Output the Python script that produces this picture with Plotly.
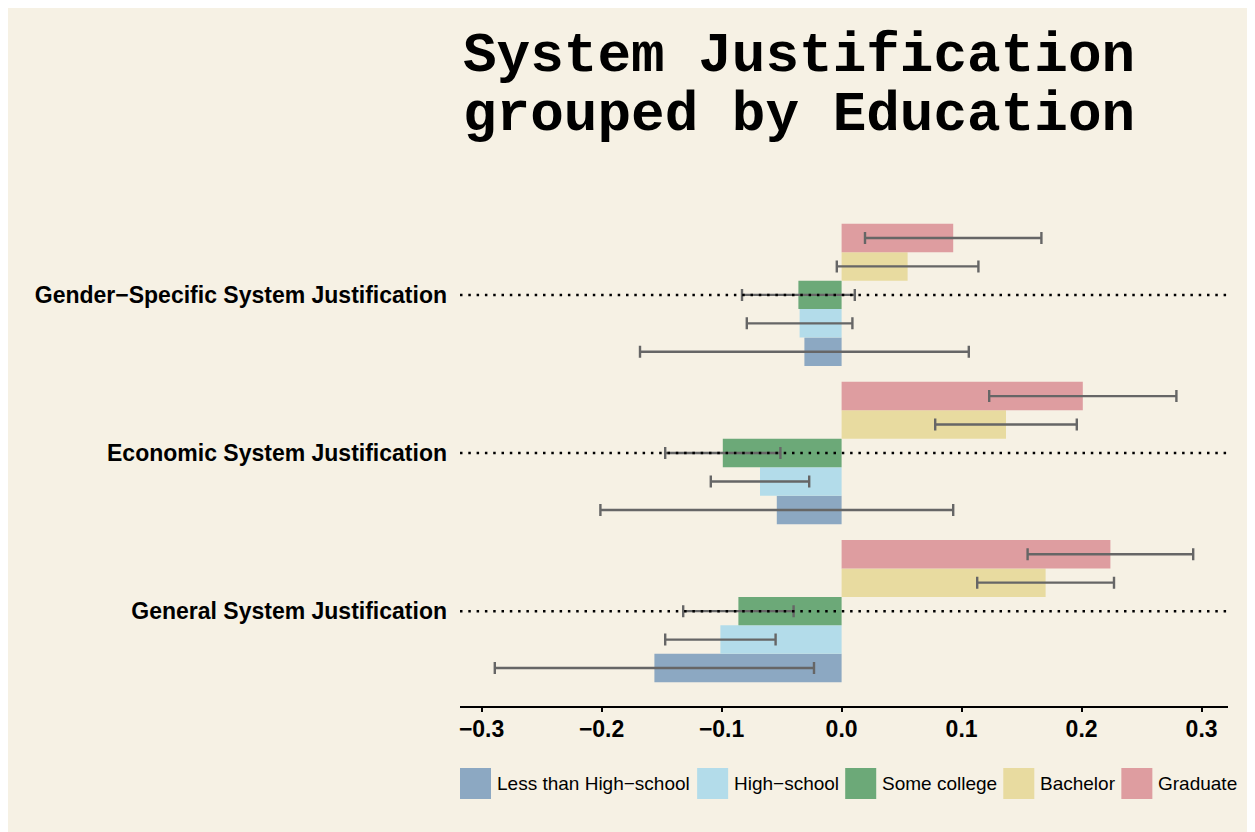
import plotly.graph_objects as go

# ---- data ----
categories = ["General System Justification",
              "Economic System Justification",
              "Gender\u2212Specific System Justification"]
series_names = ["Less than High\u2212school", "High\u2212school", "Some college", "Bachelor", "Graduate"]

less_hs = [-0.156, -0.054, -0.031]
high_school = [-0.101, -0.068, -0.035]
some_college = [-0.086, -0.099, -0.036]
bachelor = [0.170, 0.137, 0.055]
graduate = [0.224, 0.201, 0.093]

less_hs_err = [0.133, 0.147, 0.137]
high_school_err = [0.046, 0.041, 0.044]
some_college_err = [0.046, 0.048, 0.047]
bachelor_err = [0.057, 0.059, 0.059]
graduate_err = [0.069, 0.078, 0.0735]

x_ticks = [-0.3, -0.2, -0.1, 0.0, 0.1, 0.2, 0.3]
x_tick_labels = ["\u22120.3", "\u22120.2", "\u22120.1", "0.0", "0.1", "0.2", "0.3"]

colors = ["#8CA8C2", "#B3DCEA", "#6CA978", "#E8DBA0", "#DE9DA0"]
BG = "#F6F1E4"

values = [less_hs, high_school, some_college, bachelor, graduate]
errors = [less_hs_err, high_school_err, some_college_err, bachelor_err, graduate_err]

W, H = 1255, 832
OFF = 8  # page body margin
# plot area in screenshot pixels: x 460..1227.6, y 200..706
ML = 460 - OFF
MR = W - (1227.6 - OFF)
MT = 200 - OFF
MB = H - (706 - OFF)
PW, PH = W - ML - MR, H - MT - MB


def px_x(p):
    return (p - OFF - ML) / PW


def px_y(p):
    return (H - MB - (p - OFF)) / PH


fig = go.Figure()
for name, vals, errs, col in zip(series_names, values, errors, colors):
    fig.add_trace(go.Bar(
        y=categories, x=vals, name=name, orientation="h",
        marker=dict(color=col, line=dict(width=0)),
        error_x=dict(type="data", array=errs, color="#666666", thickness=2.4, width=6),
        showlegend=False,
    ))

shapes = []
# dotted reference lines at each category
for c in categories:
    shapes.append(dict(type="line", xref="paper", yref="y", x0=0, x1=1, y0=c, y1=c,
                       line=dict(color="black", width=2.5, dash="2.5px,5.8px"), layer="above"))

annotations = []
title_font = dict(family="Liberation Mono, Courier New, monospace", size=56, color="black")
annotations.append(dict(text="<b>System Justification</b>", xref="paper", yref="paper",
                        x=px_x(461), y=px_y(56), xanchor="left", yanchor="middle", showarrow=False,
                        font=title_font))
annotations.append(dict(text="<b>grouped by Education</b>", xref="paper", yref="paper",
                        x=px_x(461), y=px_y(115), xanchor="left", yanchor="middle", showarrow=False,
                        font=title_font))

# legend with large swatches
legend_x = [460, 697, 845, 1003, 1121]
for lx, name, col in zip(legend_x, series_names, colors):
    shapes.append(dict(type="rect", xref="paper", yref="paper",
                       x0=px_x(lx), x1=px_x(lx + 31), y0=px_y(799), y1=px_y(768),
                       fillcolor=col, line=dict(width=0)))
    annotations.append(dict(text=name, xref="paper", yref="paper",
                            x=px_x(lx + 35), y=px_y(783), xanchor="left", yanchor="middle",
                            showarrow=False,
                            font=dict(family="Liberation Sans, Arial, sans-serif", size=19, color="black")))

fig.update_layout(
    width=W, height=H,
    margin=dict(l=ML, r=MR, t=MT, b=MB, autoexpand=False),
    paper_bgcolor=BG, plot_bgcolor=BG,
    barmode="group", bargap=0.1, bargroupgap=0,
    shapes=shapes, annotations=annotations,
    showlegend=False,
    xaxis=dict(range=[-0.318, 0.322], tickvals=x_ticks, ticktext=x_tick_labels,
               showgrid=False, zeroline=False, showline=True, linecolor="black", linewidth=2,
               ticks="outside", ticklen=4, tickwidth=1.5, tickcolor="black",
               ticklabelstandoff=-3,
               tickfont=dict(family="Liberation Sans, Arial, sans-serif", size=23, color="black", weight="bold")),
    yaxis=dict(categoryorder="array", categoryarray=categories, range=[-0.6, 2.6],
               showgrid=False, zeroline=False, showline=False, ticks="", ticklabelstandoff=12,
               tickfont=dict(family="Liberation Sans, Arial, sans-serif", size=23, color="black", weight="bold")),
)

fig.write_html("out.html")
